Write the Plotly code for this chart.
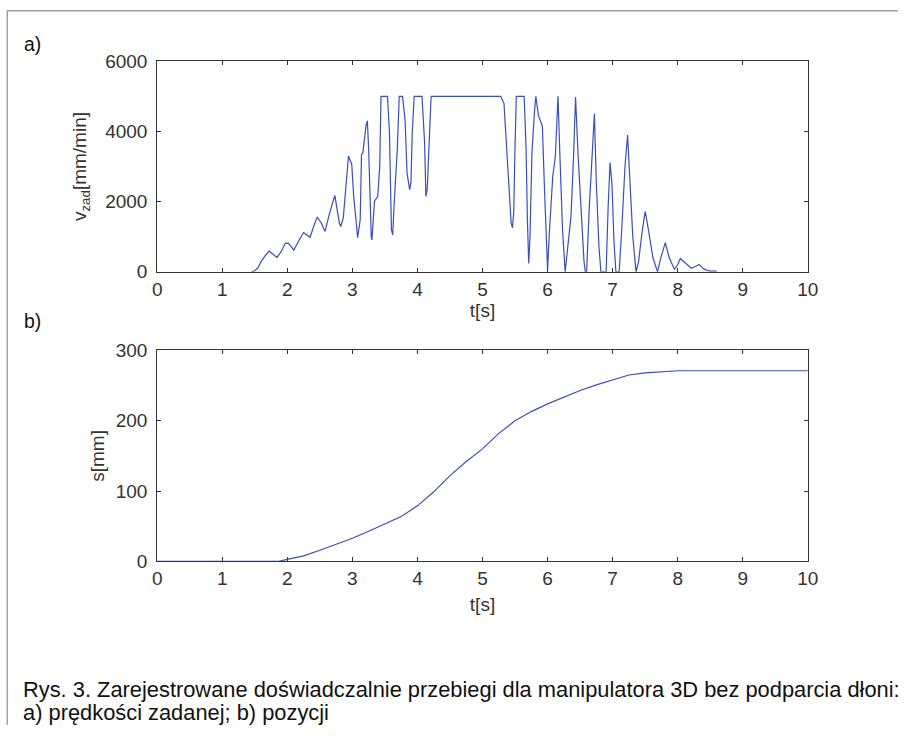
import plotly.graph_objects as go

# ---- data: a) commanded velocity v_zad [mm/min] vs t [s]
t_v = [1.45, 1.50, 1.55, 1.60, 1.66, 1.72, 1.78, 1.84, 1.90, 1.97, 2.02, 2.10, 2.18, 2.25, 2.30,
       2.35, 2.41, 2.46, 2.52, 2.58, 2.64, 2.70, 2.73, 2.80, 2.82, 2.86, 2.91, 2.94, 2.99, 3.02,
       3.06, 3.08, 3.12, 3.14, 3.16, 3.21, 3.23, 3.25, 3.29, 3.30, 3.34, 3.39, 3.42, 3.44, 3.54,
       3.57, 3.60, 3.62, 3.64, 3.69, 3.72, 3.77, 3.81, 3.84, 3.88, 3.90, 3.92, 3.95, 4.07, 4.11,
       4.13, 4.15, 4.18, 4.21, 5.28, 5.33, 5.36, 5.39, 5.42, 5.44, 5.46, 5.48, 5.50, 5.52, 5.64,
       5.67, 5.69, 5.71, 5.73, 5.76, 5.80, 5.82, 5.86, 5.92, 5.95, 5.98, 6.00, 6.03, 6.08, 6.12,
       6.16, 6.19, 6.23, 6.27, 6.31, 6.36, 6.40, 6.43, 6.47, 6.52, 6.56, 6.58, 6.60, 6.64, 6.68,
       6.72, 6.75, 6.79, 6.82, 6.90, 6.93, 6.96, 6.99, 7.02, 7.05, 7.10, 7.14, 7.19, 7.23, 7.27,
       7.31, 7.36, 7.40, 7.45, 7.50, 7.55, 7.62, 7.69, 7.74, 7.81, 7.87, 7.95, 8.00, 8.04, 8.12,
       8.21, 8.27, 8.33, 8.39, 8.44, 8.50, 8.60]
v_zad = [0, 30, 120, 300, 460, 590, 500, 410, 560, 820, 810, 620, 900, 1120, 1050,
         985, 1320, 1560, 1400, 1150, 1600, 2000, 2180, 1390, 1290, 1530, 2540, 3300, 3060, 2150,
         1390, 975, 1480, 3350, 3380, 4170, 4300, 3490, 1000, 910, 2010, 2150, 3010, 5000, 5000,
         3970, 1200, 1050, 1860, 3490, 5000, 5000, 4330, 2820, 2340, 2540, 3970, 5000, 5000, 3680,
         2150, 2340, 3680, 5000, 5000, 4800, 3875, 2900, 1800, 1390, 1250, 1700, 3600, 5000, 5000,
         3500, 1500, 240, 1000, 3400, 4600, 5000, 4450, 4150, 2500, 900, 50, 1200, 2730, 3300,
         5000, 3300, 1200, 0, 800, 1580, 3300, 4980, 3300, 1500, 300, 0, 0, 1800, 3300,
         4500, 2500, 700, 0, 0, 1800, 3110, 2500, 900, 0, 0, 1200, 3000, 3900, 2600,
         1000, 0, 300, 1100, 1720, 1200, 400, 0, 400, 830, 400, 70, 200, 380, 250,
         100, 150, 210, 100, 50, 20, 20]

# ---- data: b) position s [mm] vs t [s]
t_s = [0, 1.85, 2.0, 2.25, 2.5, 2.75, 3.0, 3.25, 3.5, 3.75, 4.0, 4.25, 4.5, 4.75, 5.0,
       5.25, 5.5, 5.75, 6.0, 6.25, 6.5, 6.75, 7.0, 7.25, 7.5, 7.75, 8.0, 10.0]
s_pos = [0, 0, 3, 8, 16, 24, 33, 43, 53, 64, 79, 99, 122, 142, 160,
         182, 200, 213, 224, 234, 243, 251, 258, 265, 268, 270, 271, 271]

x_ticks = list(range(0, 11))
v_ticks = [0, 2000, 4000, 6000]
s_ticks = [0, 100, 200, 300]

W, H = 909, 736
# mapping from target picture pixels to page pixels (measured from earlier renders)
KX, OX, KY, OY = 0.983, 5.2, 0.971, 10.8
def px(x):
    return ((x - OX) / KX) / W
def py(y):
    return 1 - ((y - OY) / KY) / H

LINE = "#3b4dbd"
AX = "#333333"
FONT = "Liberation Sans, Arial, sans-serif"
TF = dict(family=FONT, size=19, color=AX)

fig = go.Figure()
fig.add_trace(go.Scatter(x=t_v, y=v_zad, mode="lines", line=dict(color=LINE, width=1.2),
                         xaxis="x", yaxis="y", showlegend=False))
fig.add_trace(go.Scatter(x=t_s, y=s_pos, mode="lines", line=dict(color=LINE, width=1.2),
                         xaxis="x2", yaxis="y2", showlegend=False))

common = dict(showline=True, linecolor=AX, linewidth=1, mirror="ticks", ticks="inside",
              ticklen=4, tickcolor=AX, showgrid=False, zeroline=False, tickfont=TF)

fig.update_layout(
    width=W, height=H, autosize=False,
    margin=dict(l=0, r=0, t=0, b=0),
    paper_bgcolor="white", plot_bgcolor="white",
    xaxis=dict(domain=[px(157.5), px(808.5)], anchor="y", range=[0, 10], tickvals=x_ticks,
               title=dict(text="t[s]", font=TF, standoff=0), **common),
    yaxis=dict(domain=[py(272.5), py(62)], anchor="x", range=[0, 6000], tickvals=v_ticks,
               ticklabelstandoff=5,
               title=dict(text="v<sub>zad</sub>[mm/min]", font=TF, standoff=13), **common),
    xaxis2=dict(domain=[px(157.5), px(808.5)], anchor="y2", range=[0, 10], tickvals=x_ticks,
                title=dict(text="t[s]", font=TF, standoff=9), **common),
    yaxis2=dict(domain=[py(562), py(351)], anchor="x2", range=[0, 300], tickvals=s_ticks,
                ticklabelstandoff=5,
                title=dict(text="s[mm]", font=TF, standoff=6), **common),
    shapes=[dict(type="path", xref="paper", yref="paper",
                 path=f"M {px(7.5)},0 L {px(7.5)},{1 - 0.75 / H} L 1,{1 - 0.75 / H}",
                 line=dict(color="#a0a0a0", width=1.5))],
    annotations=[
        dict(text="a)", x=px(22), y=py(45), xref="paper", yref="paper", xanchor="left",
             yanchor="middle", showarrow=False, font=dict(family=FONT, size=19.4, color="#111")),
        dict(text="b)", x=px(22), y=py(322), xref="paper", yref="paper", xanchor="left",
             yanchor="middle", showarrow=False, font=dict(family=FONT, size=19.4, color="#111")),
        dict(text="Rys. 3. Zarejestrowane doświadczalnie przebiegi dla manipulatora 3D bez podparcia dłoni:",
             x=px(21), y=py(690), xref="paper", yref="paper", xanchor="left", yanchor="middle",
             showarrow=False, font=dict(family=FONT, size=21.85, color="#111")),
        dict(text="a) prędkości zadanej; b) pozycji",
             x=px(21), y=py(713), xref="paper", yref="paper", xanchor="left", yanchor="middle",
             showarrow=False, font=dict(family=FONT, size=21.85, color="#111")),
    ],
)

fig.write_html(
    "out.html",
    config={"displayModeBar": False},
    post_script="document.body.style.margin='0';document.body.style.overflow='hidden';"
                "document.documentElement.style.overflow='hidden';",
)
